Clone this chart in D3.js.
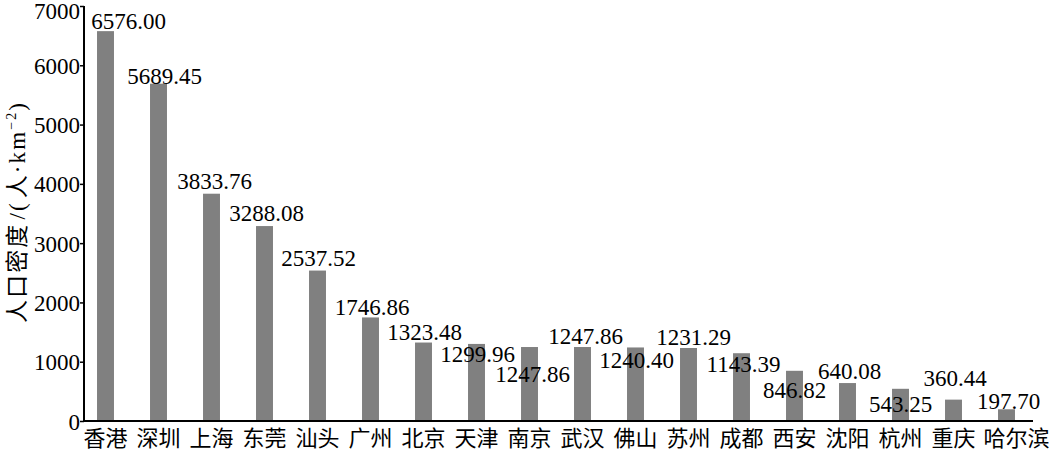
<!DOCTYPE html>
<html><head><meta charset="utf-8">
<script src="https://cdn.jsdelivr.net/npm/d3@7"></script>
<style>
html,body{margin:0;padding:0;background:#fff;}
svg{display:block;}
</style></head>
<body>
<svg id="chart" width="1052" height="451"></svg>
<script>
const cities = ["香港","深圳","上海","东莞","汕头","广州","北京","天津","南京","武汉","佛山","苏州","成都","西安","沈阳","杭州","重庆","哈尔滨"];
const density = [6576.00,5689.45,3833.76,3288.08,2537.52,1746.86,1323.48,1299.96,1247.86,1247.86,1240.40,1231.29,1143.39,846.82,640.08,543.25,360.44,197.70];
const yTicks = [0,1000,2000,3000,4000,5000,6000,7000];

// layout: manual label nudges (dx, dy from bar top) as in the reference
const labelDx = [23,6,3,2,1,1.5,1,1,3,3,1,5,2,0,2,0,1.5,2];
const labelDy = [-2,0,-5,-5,-4.5,-2,-2.5,18,35,-3,20.6,-3,19,27,-4,23,-14,0];

const svg = d3.select("#chart");
const serif = "'Liberation Serif','Times New Roman',serif";
const cjk = "'Noto Sans CJK SC',sans-serif";

const x = d3.scaleBand().domain(cities).range([79,1033]).paddingInner(0.68).paddingOuter(0.34);
const y = d3.scaleLinear().domain([0,7000]).range([421,6]);

// bars
svg.append("g").selectAll("rect").data(density).join("rect")
  .attr("x",(d,i)=>x(cities[i]))
  .attr("y",d=>y(d))
  .attr("width",x.bandwidth())
  .attr("height",d=>y(0)-y(d))
  .attr("fill","#808080");

// value labels
svg.append("g").selectAll("text").data(density).join("text")
  .attr("x",(d,i)=>x(cities[i])+x.bandwidth()/2+labelDx[i])
  .attr("y",(d,i)=>y(d)+labelDy[i])
  .attr("text-anchor","middle")
  .attr("font-family",serif)
  .attr("font-size",23)
  .attr("fill","#000")
  .text(d=>d.toFixed(2));

// y axis
const ya = svg.append("g").attr("transform","translate(84,0)")
  .call(d3.axisLeft(y).tickValues(yTicks).tickSize(4).tickPadding(0).tickFormat(d3.format("d")));
ya.select(".domain").attr("stroke","#000").attr("stroke-width",2).attr("d","M0,"+y(7000)+"V"+y(0));
ya.selectAll(".tick line").attr("stroke","#000").attr("stroke-width",1.5);
ya.selectAll(".tick text").attr("font-family",serif).attr("font-size",23).attr("fill","#000")
  .attr("dy",d=> d===7000 ? "0.55em" : "0.35em");

// x axis
const xa = svg.append("g").attr("transform","translate(0,"+y(0)+")")
  .call(d3.axisBottom(x).tickSize(0).tickPadding(9));
xa.select(".domain").attr("stroke","#000").attr("stroke-width",2).attr("d","M83,0H1033");
xa.selectAll(".tick text").attr("font-family",cjk).attr("font-size",22).attr("fill","#000").attr("dy","0.71em")
  .attr("dx",(d,i)=> i===cities.length-1 ? 10 : 0);

// y title
const t = svg.append("text")
  .attr("transform","translate(25,213) rotate(-90)")
  .attr("text-anchor","middle")
  .attr("font-size",23)
  .attr("textLength",220)
  .attr("lengthAdjust","spacing")
  .attr("fill","#000");
t.append("tspan").attr("font-family",cjk).text("人口密度");
t.append("tspan").attr("font-family",serif).attr("dx",3).text("/(");
t.append("tspan").attr("font-family",cjk).attr("dx",3).text("人");
t.append("tspan").attr("font-family",serif).text("·km");
t.append("tspan").attr("font-family",serif).attr("font-size",14).attr("dy",-9).text("−2");
t.append("tspan").attr("font-family",serif).attr("dy",9).text(")");
</script>
</body></html>
